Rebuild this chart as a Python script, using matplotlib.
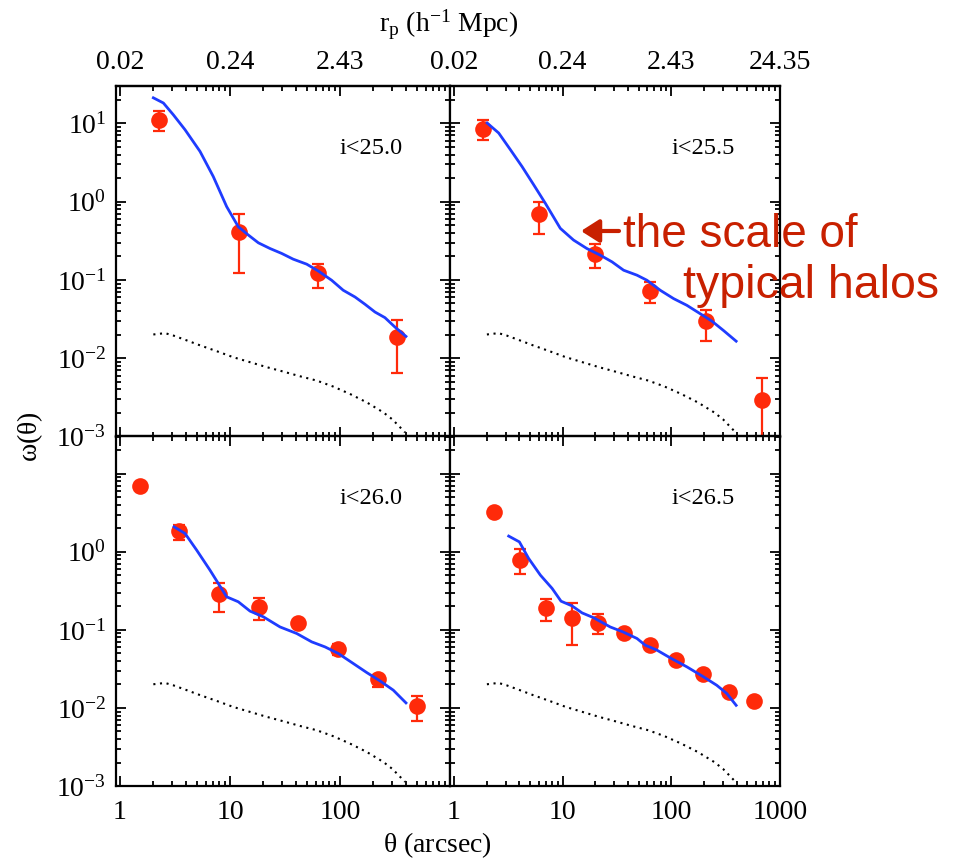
import numpy as np
import matplotlib
matplotlib.use("Agg")
import matplotlib.pyplot as plt
from matplotlib.ticker import LogLocator, NullFormatter, FixedLocator, FixedFormatter

plt.rcParams['font.family'] = ['Liberation Serif', 'DejaVu Serif']
plt.rcParams['mathtext.fontset'] = 'custom'
plt.rcParams['mathtext.rm'] = 'Liberation Serif'
plt.rcParams['mathtext.it'] = 'Liberation Serif:italic'
plt.rcParams['mathtext.default'] = 'regular'

# ---------------- data ----------------
panel_labels = ["i<25.0", "i<25.5", "i<26.0", "i<26.5"]

# measured points (theta [arcsec], w, lower, upper)
p1_theta = [2.28, 12.0, 63.5, 332]
p1_w     = [11.1, 0.41, 0.121, 0.0186]
p1_lo    = [7.9, 0.124, 0.079, 0.0064]
p1_hi    = [14.3, 0.70, 0.159, 0.0307]

p2_theta = [1.85, 6.07, 19.7, 64, 208, 680]
p2_w     = [8.47, 0.69, 0.212, 0.0723, 0.0298, 0.00296]
p2_lo    = [6.05, 0.39, 0.143, 0.0507, 0.0165, 0.0004]
p2_hi    = [10.9, 1.0, 0.284, 0.094, 0.0417, 0.0056]

p3_theta = [1.52, 3.46, 7.94, 18.2, 41.8, 95.2, 220, 505]
p3_w     = [6.95, 1.86, 0.284, 0.195, 0.121, 0.0566, 0.0238, 0.0105]
p3_lo    = [6.95, 1.41, 0.170, 0.133, 0.121, 0.047, 0.0186, 0.0068]
p3_hi    = [6.95, 2.2, 0.394, 0.257, 0.121, 0.066, 0.0268, 0.0143]

p4_theta = [2.36, 4.08, 7.08, 12.3, 21.3, 36.9, 64, 111, 194, 336, 582]
p4_w     = [3.26, 0.783, 0.188, 0.144, 0.124, 0.0916, 0.0637, 0.0417, 0.0270, 0.0160, 0.0123]
p4_lo    = [3.26, 0.513, 0.129, 0.0649, 0.0873, 0.0916, 0.0637, 0.0417, 0.0270, 0.0160, 0.0123]
p4_hi    = [3.26, 1.08, 0.248, 0.222, 0.162, 0.0916, 0.0637, 0.0417, 0.0270, 0.0160, 0.0123]

# model curves (blue)
m1_theta = [2.01, 2.48, 3.05, 3.90, 5.34, 7.05, 9.33, 11.9, 14.7, 18.1, 23.1, 29.5, 37.6,
            49.8, 63.5, 84.0, 107, 137, 169, 208, 256, 316, 398]
m1_w     = [21.2, 18.2, 12.9, 8.30, 4.38, 2.09, 0.863, 0.478, 0.374, 0.298, 0.252, 0.218, 0.184,
            0.159, 0.130, 0.099, 0.0738, 0.0605, 0.0488, 0.0389, 0.033, 0.0250, 0.019]

m2_theta = [2.02, 2.58, 3.31, 4.23, 5.42, 6.93, 9.52, 12.6, 16.7, 22.2, 28.5, 36.4, 48.3,
            59.7, 79.1, 105, 139, 184, 236, 302, 395]
m2_w     = [10.1, 7.53, 4.60, 2.81, 1.64, 0.954, 0.456, 0.323, 0.252, 0.207, 0.170, 0.133, 0.115,
            0.099, 0.0738, 0.0577, 0.0474, 0.0371, 0.0298, 0.0226, 0.0165]

m3_theta = [3.10, 3.90, 4.98, 6.58, 9.33, 11.9, 15.2, 20.1, 28.5, 40.4, 55.3, 73.1, 96.6,
            132, 175, 231, 305, 398]
m3_w     = [2.09, 1.72, 1.05, 0.582, 0.265, 0.229, 0.174, 0.147, 0.109, 0.0899, 0.0702, 0.0605,
            0.0498, 0.0371, 0.0284, 0.0222, 0.0169, 0.0116]

m4_theta = [3.19, 4.0, 4.87, 6.24, 8.0, 9.67, 12.2, 15.1, 19.3, 27.4, 35.9, 48.3, 57.5, 73.8,
            97.7, 139, 198, 262, 324, 395]
m4_w     = [1.59, 1.34, 0.822, 0.503, 0.34, 0.233, 0.203, 0.165, 0.143, 0.109, 0.0942, 0.0776,
            0.0637, 0.055, 0.0438, 0.0336, 0.025, 0.0195, 0.0153, 0.0108]

# two-halo term (dotted), same in every panel
two_theta = [2.01, 2.57, 3.05, 4.04, 5.34, 7.57, 10.7, 15.2, 21.5, 30.5, 43.3, 61.4, 86.9,
             123, 175, 248, 300, 390]
two_w     = [0.0201, 0.0209, 0.0195, 0.0169, 0.0146, 0.0123, 0.0103, 0.0089, 0.0077, 0.00675,
             0.00588, 0.00518, 0.00434, 0.0035, 0.00273, 0.00203, 0.00165, 0.00113]

x_ticks = [1, 10, 100, 1000]
x_ticklabels = ["1", "10", "100", "1000"]
y_ticks = [1e-3, 1e-2, 1e-1, 1e0, 1e1]
y_ticklabels = [r"$10^{-3}$", r"$10^{-2}$", r"$10^{-1}$", r"$10^{0}$", r"$10^{1}$"]
rp_per_arcsec = 0.0243
rp_ticklabels = ["0.02", "0.24", "2.43", "24.35"]

points = [(p1_theta, p1_w, p1_lo, p1_hi), (p2_theta, p2_w, p2_lo, p2_hi),
          (p3_theta, p3_w, p3_lo, p3_hi), (p4_theta, p4_w, p4_lo, p4_hi)]
models = [(m1_theta, m1_w), (m2_theta, m2_w), (m3_theta, m3_w), (m4_theta, m4_w)]

# ---------------- figure ----------------
W, H = 970, 859
fig = plt.figure(figsize=(W / 100, H / 100), dpi=100)

def fx(px):
    return px / W

def fy(py):
    return 1 - py / H

col_edges = [(116, 450), (450, 780)]
row_edges = [(86, 436.5), (436.5, 786)]

RED = "#ff2a0a"
BLUE = "#1f3cff"
ANN = "#c82000"

for k in range(4):
    r, c = divmod(k, 2)
    x0, x1 = col_edges[c]
    y0, y1 = row_edges[r]
    ax = fig.add_axes([fx(x0), fy(y1), fx(x1) - fx(x0), fy(y0) - fy(y1)])
    ax.set_xscale("log")
    ax.set_yscale("log")
    ax.set_xlim(0.92, 1000)
    ax.set_ylim(1e-3, 30)

    th, w, lo, hi = [np.array(a, dtype=float) for a in points[k]]
    yerr = np.vstack([w - lo, hi - w])
    ax.errorbar(th, w, yerr=yerr, fmt="none", ecolor=RED, elinewidth=1.6,
                capsize=4, capthick=1.6, zorder=2)
    ax.plot(th, w, "o", color=RED, markersize=12, markeredgewidth=0, zorder=3)
    mt, mw = models[k]
    ax.plot(mt, mw, "-", color=BLUE, lw=2.0, zorder=4)
    ax.plot(two_theta, two_w, linestyle=(0, (1, 2.2)), color="black", lw=1.5, zorder=4)

    ax.text(0.67, 0.823, panel_labels[k], transform=ax.transAxes, fontsize=17.5,
            ha="left", va="center")

    for s in ax.spines.values():
        s.set_linewidth(1.6)

    ax.xaxis.set_major_locator(FixedLocator(x_ticks))
    ax.xaxis.set_minor_locator(LogLocator(base=10, subs=np.arange(2, 10)))
    ax.xaxis.set_minor_formatter(NullFormatter())
    ax.yaxis.set_major_locator(FixedLocator(y_ticks))
    ax.yaxis.set_minor_locator(LogLocator(base=10, subs=np.arange(2, 10), numticks=20))
    ax.yaxis.set_minor_formatter(NullFormatter())

    ax.tick_params(which="both", direction="in", top=False, right=True, width=1.3)
    ax.tick_params(which="major", length=7)
    ax.tick_params(which="minor", length=3.5)
    ax.tick_params(axis="x", labelsize=20, pad=10)
    ax.tick_params(axis="y", labelsize=20, pad=7)

    # x tick labels
    if r == 1:
        labs = list(x_ticklabels) if c == 1 else x_ticklabels[:3] + [""]
        ax.xaxis.set_major_formatter(FixedFormatter(labs))
    else:
        ax.xaxis.set_major_formatter(FixedFormatter([""] * 4))
    # y tick labels
    if c == 0:
        labs = list(y_ticklabels) if r == 0 else y_ticklabels[:4] + [""]
        ax.yaxis.set_major_formatter(FixedFormatter(labs))
    else:
        ax.yaxis.set_major_formatter(FixedFormatter([""] * 5))

    # top axis in r_p
    sec = ax.secondary_xaxis("top", functions=(lambda t: t * rp_per_arcsec,
                                                lambda p: p / rp_per_arcsec))
    sec.spines["top"].set_linewidth(1.6)
    rp_pos = [t * rp_per_arcsec for t in x_ticks]
    sec.xaxis.set_major_locator(FixedLocator(rp_pos))
    if r == 0:
        labs = list(rp_ticklabels) if c == 1 else rp_ticklabels[:3] + [""]
    else:
        labs = [""] * 4
    sec.xaxis.set_major_formatter(FixedFormatter(labs))
    sec.xaxis.set_minor_locator(FixedLocator([m * d * rp_per_arcsec for d in (1, 10, 100)
                                              for m in range(2, 10)]))
    sec.xaxis.set_minor_formatter(NullFormatter())
    sec.tick_params(which="both", direction="in", width=1.3, labelsize=20, pad=8)
    sec.tick_params(which="major", length=7)
    sec.tick_params(which="minor", length=3.5)

# axis titles
fig.text(fx(30), fy(437), r"$\omega(\theta)$", rotation=90, fontsize=20, ha="center", va="center")
fig.text(fx(437), fy(845), r"$\theta$ (arcsec)", fontsize=20, ha="center", va="center")
fig.text(fx(449), fy(25), r"r$_{\rm p}$ (h$^{-1}$ Mpc)", fontsize=20, ha="center", va="center")

# annotation
fig.text(fx(623), fy(246.7), "the scale of", fontsize=33, color=ANN,
         family=["Liberation Sans", "DejaVu Sans"], ha="left", va="baseline")
fig.text(fx(683), fy(298), "typical halos", fontsize=33.5, color=ANN,
         family=["Liberation Sans", "DejaVu Sans"], ha="left", va="baseline")
fig.patches.append(matplotlib.patches.FancyArrowPatch(
    (fx(619), fy(231)), (fx(581), fy(231)), transform=fig.transFigure,
    arrowstyle="-|>,head_length=11,head_width=7", color=ANN, lw=3,
    mutation_scale=1, shrinkA=0, shrinkB=0))

fig.savefig("out.png", dpi=100)
